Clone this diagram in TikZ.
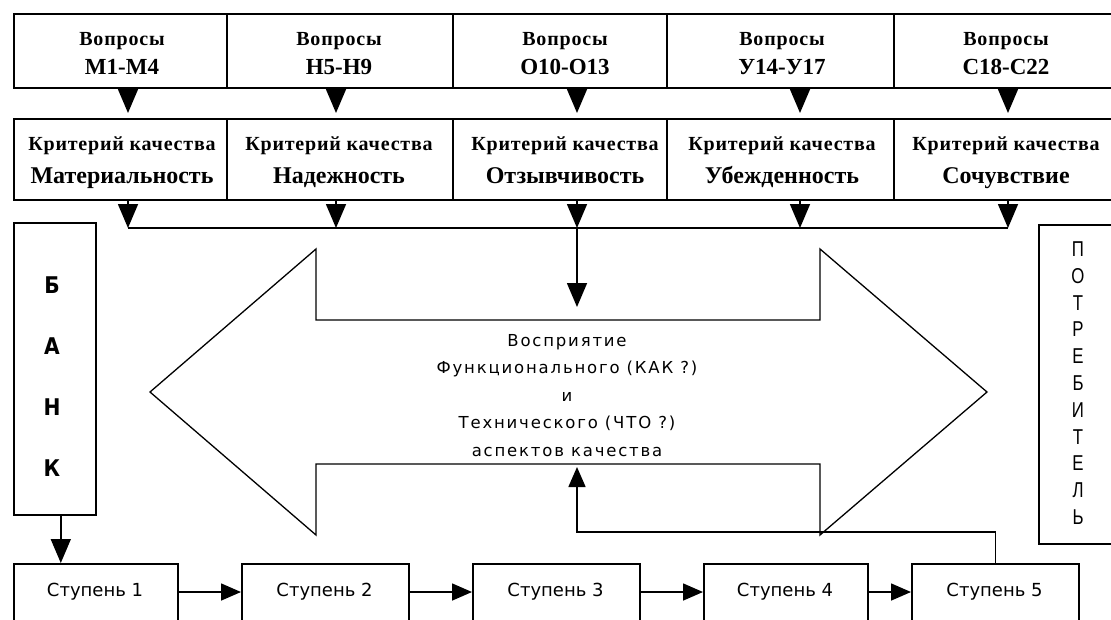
\documentclass[tikz,border=0pt]{standalone}
\usepackage{fontspec}
\setmainfont{Liberation Serif}
\newfontfamily\serifls[LetterSpace=4]{Liberation Serif}
\newfontfamily\cenf[LetterSpace=11]{DejaVu Sans}
\newfontfamily\stepf{DejaVu Sans}
\newfontfamily\bankf[FakeStretch=0.88]{DejaVu Sans}
\newfontfamily\consf[FakeStretch=0.78]{Liberation Sans}
\usetikzlibrary{arrows.meta}
\begin{document}
\begin{tikzpicture}[x=1pt,y=-1pt,
  cell/.style={draw, line width=1.6pt, inner sep=0pt, anchor=north west},
  arr/.style={line width=1.6pt, -{Triangle[length=24pt,width=20pt]}},
  sarr/.style={line width=1.6pt, -{Triangle[length=20pt,width=17pt]}},
  lbl/.style={inner sep=0pt, anchor=base},
  qhead/.style={lbl, font=\serifls\bfseries\fontsize{20}{20}\selectfont},
  qcode/.style={lbl, font=\bfseries\fontsize{23}{23}\selectfont},
  khead/.style={lbl, font=\serifls\bfseries\fontsize{20}{20}\selectfont},
  kname/.style={lbl, font=\bfseries\fontsize{24}{24}\selectfont},
  steptxt/.style={lbl, font=\stepf\fontsize{18}{18}\selectfont},
  bigarrow/.style={draw, line width=1.3pt, line join=miter}]
\useasboundingbox (0,0) rectangle (1111,619);
\clip (0,0) rectangle (1111,619);

% row 1: questions
\node[cell, minimum width=213pt, minimum height=74pt] (q1) at (13,13) {};
\node[cell, minimum width=226pt, minimum height=74pt] (q2) at (226,13) {};
\node[cell, minimum width=214pt, minimum height=74pt] (q3) at (452,13) {};
\node[cell, minimum width=227pt, minimum height=74pt] (q4) at (666,13) {};
\node[cell, minimum width=226pt, minimum height=74pt] (q5) at (893,13) {};
\node[qhead] (q1a) at (122,45) {Вопросы};
\node[qcode] (q1b) at (122,74) {М1-М4};
\node[qhead] (q2a) at (339,45) {Вопросы};
\node[qcode] (q2b) at (339,74) {Н5-Н9};
\node[qhead] (q3a) at (565,45) {Вопросы};
\node[qcode] (q3b) at (565,74) {О10-О13};
\node[qhead] (q4a) at (782,45) {Вопросы};
\node[qcode] (q4b) at (782,74) {У14-У17};
\node[qhead] (q5a) at (1006,45) {Вопросы};
\node[qcode] (q5b) at (1006,74) {С18-С22};

% row 2: criteria
\node[cell, minimum width=213pt, minimum height=81pt] (k1) at (13,118) {};
\node[cell, minimum width=226pt, minimum height=81pt] (k2) at (226,118) {};
\node[cell, minimum width=214pt, minimum height=81pt] (k3) at (452,118) {};
\node[cell, minimum width=227pt, minimum height=81pt] (k4) at (666,118) {};
\node[cell, minimum width=226pt, minimum height=81pt] (k5) at (893,118) {};
\node[khead] (k1a) at (122,150) {Критерий качества};
\node[kname] (k1b) at (122,183) {Материальность};
\node[khead] (k2a) at (339,150) {Критерий качества};
\node[kname] (k2b) at (339,183) {Надежность};
\node[khead] (k3a) at (565,150) {Критерий качества};
\node[kname] (k3b) at (565,183) {Отзывчивость};
\node[khead] (k4a) at (782,150) {Критерий качества};
\node[kname] (k4b) at (782,183) {Убежденность};
\node[khead] (k5a) at (1006,150) {Критерий качества};
\node[kname] (k5b) at (1006,183) {Сочувствие};

% arrow columns
\coordinate (a1) at (128,0);
\coordinate (a2) at (336,0);
\coordinate (a3) at (577,0);
\coordinate (a4) at (800,0);
\coordinate (a5) at (1008,0);
\coordinate (m) at (0,228);
\foreach \i in {1,...,5} {
  \draw[arr, shorten >=5pt] (a\i |- q\i.south) -- (a\i |- k\i.north);
  \draw[arr] (a\i |- k\i.south) -- (a\i |- m);
}
\draw[line width=1.6pt] (a1 |- m) -- (a5 |- m);

% big double arrow
\path[bigarrow] (150,392) -- (316,249) -- (316,320) -- (820,320) -- (820,249)
  -- (987,392) -- (820,535) -- (820,464) -- (316,464) -- (316,535) -- cycle;
\coordinate (shtop) at (577,320);
\coordinate (shbot) at (577,464);
\draw[arr, shorten >=13pt] (a3 |- m) -- (shtop);
\node[inner sep=0pt, anchor=north, align=center,
  font=\cenf\fontsize{16.5}{27.5}\selectfont] (perc) at (567,334)
  {Восприятие\\Функционального (КАК ?)\\и\\Технического (ЧТО ?)\\аспектов качества};

% bank
\node[cell, minimum width=82pt, minimum height=292pt] (bank) at (13,222) {};
\node[inner sep=0pt, anchor=north, align=center,
  font=\bankf\bfseries\fontsize{23}{60.7}\selectfont] (bankt) at (52,277)
  {Б\\А\\Н\\К};

% consumer
\node[cell, minimum width=90pt, minimum height=319pt] (cons) at (1038,224) {};
\node[inner sep=0pt, anchor=north, align=center,
  font=\consf\fontsize{21.5}{26.8}\selectfont] (const) at (1078,241.5)
  {П\\О\\Т\\Р\\Е\\Б\\И\\Т\\Е\\Л\\Ь};

% steps
\node[cell, minimum width=164pt, minimum height=120pt] (s1) at (13,563) {};
\node[cell, minimum width=167pt, minimum height=120pt] (s2) at (241,563) {};
\node[cell, minimum width=167pt, minimum height=120pt] (s3) at (472,563) {};
\node[cell, minimum width=164pt, minimum height=120pt] (s4) at (703,563) {};
\node[cell, minimum width=167pt, minimum height=120pt] (s5) at (911,563) {};
\node[steptxt] (s1t) at (95,596) {Ступень 1};
\node[steptxt] (s2t) at (324.5,596) {Ступень 2};
\node[steptxt] (s3t) at (555.5,596) {Ступень 3};
\node[steptxt] (s4t) at (785,596) {Ступень 4};
\node[steptxt] (s5t) at (994.5,596) {Ступень 5};
\coordinate (sy) at (0,592);
\draw[sarr] (s1.east |- sy) -- (s2.west |- sy);
\draw[sarr] (s2.east |- sy) -- (s3.west |- sy);
\draw[sarr] (s3.east |- sy) -- (s4.west |- sy);
\draw[sarr] (s4.east |- sy) -- (s5.west |- sy);

% bank to step 1
\draw[arr] ([xshift=6pt]bank.south) -- ([xshift=6pt]bank.south |- s1.north);

% feedback from step 5
\coordinate (fb) at (577,532);
\draw[sarr, shorten >=3pt] (s5.north) |- (fb) -- (shbot);
\end{tikzpicture}
\end{document}
